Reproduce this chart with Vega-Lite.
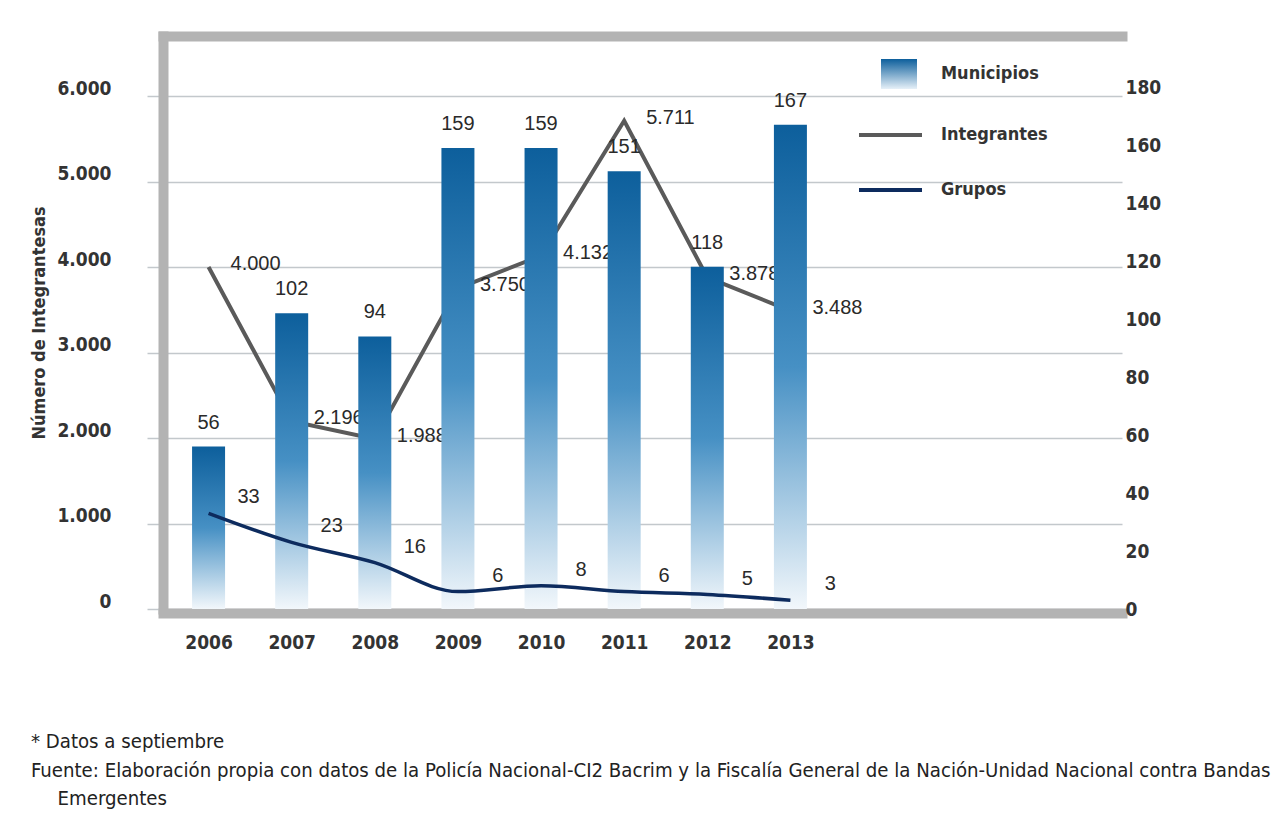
{
  "$schema": "https://vega.github.io/schema/vega-lite/v6.json",
  "width": 959,
  "height": 573,
  "padding": {"left": 30, "top": 33, "right": 20, "bottom": 10},
  "background": "white",
  "config": {
    "locale": {"number": {"decimal": ",", "thousands": ".", "grouping": [3], "currency": ["$", ""]}},
    "view": {"stroke": null},
    "axis": {"labelFont": "Liberation Sans Narrow, DejaVu Sans Condensed, sans-serif", "labelFontWeight": "bold", "labelFontSize": 19, "labelColor": "#333333", "titleFont": "Liberation Sans Narrow, DejaVu Sans Condensed, sans-serif", "titleFontWeight": "bold", "titleFontSize": 18, "titleColor": "#333333"}
  },
  "data": {"values": [
    {"year": 2006, "Municipios": 56, "Integrantes": 4000, "Grupos": 33},
    {"year": 2007, "Municipios": 102, "Integrantes": 2196, "Grupos": 23},
    {"year": 2008, "Municipios": 94, "Integrantes": 1988, "Grupos": 16},
    {"year": 2009, "Municipios": 159, "Integrantes": 3750, "Grupos": 6},
    {"year": 2010, "Municipios": 159, "Integrantes": 4132, "Grupos": 8},
    {"year": 2011, "Municipios": 151, "Integrantes": 5711, "Grupos": 6},
    {"year": 2012, "Municipios": 118, "Integrantes": 3878, "Grupos": 5},
    {"year": 2013, "Municipios": 167, "Integrantes": 3488, "Grupos": 3}
  ]},
  "title": {
    "text": ["* Datos a septiembre", "Fuente: Elaboración propia con datos de la Policía Nacional-CI2 Bacrim y la Fiscalía General de la Nación-Unidad Nacional contra Bandas", "\u2800\u2800Emergentes"],
    "orient": "bottom",
    "anchor": "start",
    "offset": 80,
    "font": "DejaVu Sans Condensed, sans-serif",
    "fontSize": 20.2,
    "fontWeight": "normal",
    "color": "#222222",
    "lineHeight": 28.5
  },
  "layer": [
    {
      "encoding": {
        "x": {"field": "year", "type": "quantitative",
          "scale": {"domain": [2005.512, 2016.929], "nice": false, "zero": false},
          "axis": {"orient": "bottom", "values": [2006, 2007, 2008, 2009, 2010, 2011, 2012, 2013], "format": "d", "title": null, "grid": false, "ticks": false, "labelPadding": 20, "offset": 4, "domainColor": "#b3b3b3", "domainWidth": 10, "domainCap": "square"}},
        "y": {"field": "Integrantes", "type": "quantitative",
          "scale": {"domain": [0, 6702], "nice": false},
          "axis": {"orient": "left", "values": [0, 1000, 2000, 3000, 4000, 5000, 6000], "format": ",d", "title": "Número de Integrantesas", "titlePadding": 8, "grid": true, "gridColor": "#c3c8cc", "gridWidth": 1.5, "ticks": true, "tickSize": 16, "tickColor": "#c3c8cc", "tickWidth": 1.5, "labelPadding": 36, "labelOffset": -8, "domainColor": "#b3b3b3", "domainWidth": 10, "domainCap": "square"}}
      },
      "layer": [
        {"mark": {"type": "line", "stroke": "#5a5a5a", "strokeWidth": 4}},
        {"mark": {"type": "text", "align": "left", "baseline": "middle", "dx": 22, "dy": -3, "font": "Liberation Sans, Arial, sans-serif", "fontSize": 20, "fill": "#2a2a2a"},
          "encoding": {"text": {"field": "Integrantes", "type": "quantitative", "format": ",d"}}},
        {"transform": [{"fold": ["Municipios", "Integrantes", "Grupos"], "as": ["serie", "v"]}],
          "mark": {"type": "point", "opacity": 0},
          "encoding": {
            "x": {"value": 0}, "y": {"value": 0},
            "color": {"field": "serie", "type": "nominal",
              "scale": {"domain": ["Municipios", "Integrantes", "Grupos"], "range": ["#1565a3", "#5a5a5a", "#0d2b5e"]},
              "legend": {"title": null, "orient": "none", "legendX": 716, "legendY": 26, "padding": 0, "rowPadding": 34, "labelOffset": 38,
                "labelFont": "DejaVu Sans Condensed, sans-serif", "labelFontWeight": "bold", "labelFontSize": 18, "labelColor": "#333333",
                "symbolSize": 400,
                "encoding": {"symbols": {
                  "shape": {"condition": {"test": "datum.value === 'Municipios'", "value": "M-1,-1.5H2.6V1.5H-1Z"}, "value": "M-3.2,0H3.1"},
                  "fill": {"condition": {"test": "datum.value === 'Municipios'", "value": {"gradient": "linear", "x1": 0, "y1": 0, "x2": 0, "y2": 1, "stops": [{"offset": 0, "color": "#0d5f9c"}, {"offset": 1, "color": "#e6f0f8"}]}}, "value": "transparent"},
                  "strokeOpacity": {"condition": {"test": "datum.value === 'Municipios'", "value": 0}, "value": 1},
                  "strokeWidth": {"value": 4},
                  "opacity": {"value": 1},
                  "size": {"value": 400}
                }}}}
          }}
      ]
    },
    {
      "encoding": {
        "x": {"field": "year", "type": "quantitative",
          "scale": {"domain": [2005.512, 2016.929], "nice": false, "zero": false},
          "axis": {"orient": "top", "title": null, "labels": false, "ticks": false, "grid": false, "domainColor": "#b3b3b3", "domainWidth": 10, "domainCap": "square"}}
      },
      "layer": [
        {"mark": {"type": "bar", "width": 33, "fill": {"gradient": "linear", "x1": 0, "y1": 0, "x2": 0, "y2": 1, "stops": [{"offset": 0, "color": "#0d5f9c"}, {"offset": 0.5, "color": "#4690c4"}, {"offset": 1, "color": "#f2f7fb"}]}},
          "encoding": {"y": {"field": "Municipios", "type": "quantitative", "scale": {"domain": [0, 197.6], "nice": false},
            "axis": {"orient": "right", "values": [0, 20, 40, 60, 80, 100, 120, 140, 160, 180], "title": null, "grid": false, "ticks": false, "domain": false, "labelPadding": 3}}}},
        {"mark": {"type": "text", "align": "center", "baseline": "bottom", "dy": -14, "font": "Liberation Sans, Arial, sans-serif", "fontSize": 20, "fill": "#2a2a2a"},
          "encoding": {"y": {"field": "Municipios", "type": "quantitative"}, "text": {"field": "Municipios", "type": "quantitative"}}},
        {"mark": {"type": "line", "stroke": "#0d2b5e", "strokeWidth": 3.5, "interpolate": "monotone"},
          "encoding": {"y": {"field": "Grupos", "type": "quantitative"}}},
        {"mark": {"type": "text", "align": "center", "baseline": "middle", "dx": 40, "dy": -16, "font": "Liberation Sans, Arial, sans-serif", "fontSize": 20, "fill": "#2a2a2a"},
          "encoding": {"y": {"field": "Grupos", "type": "quantitative"}, "text": {"field": "Grupos", "type": "quantitative"}}}
      ]
    }
  ],
  "resolve": {"scale": {"y": "independent"}, "axis": {"x": "independent"}}
}
